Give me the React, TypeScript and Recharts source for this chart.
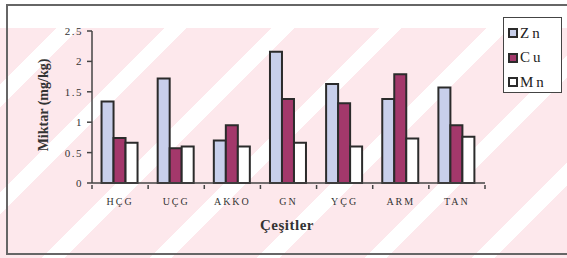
import React from "react";
import { BarChart, Bar, XAxis, YAxis } from "recharts";

const categories = ["HÇG", "UÇG", "AKKO", "GN", "YÇG", "ARM", "TAN"];
const zn = [1.34, 1.72, 0.7, 2.16, 1.63, 1.38, 1.57];
const cu = [0.74, 0.57, 0.95, 1.38, 1.31, 1.79, 0.95];
const mn = [0.66, 0.6, 0.6, 0.66, 0.6, 0.73, 0.76];
const yTicks = [0, 0.5, 1, 1.5, 2, 2.5];
const seriesKeys = ["Zn", "Cu", "Mn"] as const;

const data = categories.map((c, i) => ({ name: c, Zn: zn[i], Cu: cu[i], Mn: mn[i] }));

const SERIF = "'Liberation Serif', 'Times New Roman', serif";
const COLORS: Record<string, string> = { Zn: "#c8cfeb", Cu: "#a3386b", Mn: "#ffffff" };
const STROKE = "#2b2b2b";
const AXIS = "#444";

const XTick = (props: any) => {
  const { x, y, payload, index, visibleTicksCount, width } = props;
  const band = width / visibleTicksCount;
  const left = x - band / 2;
  const right = x + band / 2;
  return (
    <g>
      <line x1={left} x2={left} y1={y} y2={y + 4} stroke={AXIS} strokeWidth={1.5} />
      {index === visibleTicksCount - 1 && (
        <line x1={right} x2={right} y1={y} y2={y + 4} stroke={AXIS} strokeWidth={1.5} />
      )}
      <text x={x} y={y + 20} textAnchor="middle" fontSize={10} fill="#333" fontFamily={SERIF} style={{ letterSpacing: "2px" }}>
        {payload.value}
      </text>
    </g>
  );
};

const YTick = (props: any) => {
  const { x, y, payload } = props;
  return (
    <text x={x} y={y + 4} textAnchor="end" fontSize={11} fill="#333" fontFamily={SERIF} style={{ letterSpacing: "1.5px" }}>
      {payload.value}
    </text>
  );
};

const LegendBox = () => (
  <div
    style={{
      position: "absolute",
      left: 503,
      top: 17,
      width: 59,
      height: 76,
      border: "1px solid #444",
      background: "#fff",
      boxSizing: "border-box",
      paddingTop: 3,
      fontFamily: SERIF,
    }}
  >
    {seriesKeys.map((k) => (
      <div key={k} style={{ display: "flex", alignItems: "center", height: 24.5, paddingLeft: 4 }}>
        <span
          style={{
            display: "inline-block",
            width: 6,
            height: 6,
            background: COLORS[k],
            border: `2px solid ${STROKE}`,
            marginRight: 2,
          }}
        />
        <span style={{ fontSize: 15, letterSpacing: "3px", color: "#222" }}>{k}</span>
      </div>
    ))}
  </div>
);

export default function App() {
  return (
    <div
      style={{
        position: "absolute",
        left: 0,
        top: 0,
        width: 567,
        height: 258,
        overflow: "hidden",
        background:
          "linear-gradient(to bottom, #ffffff 0px, #ffffff 28px, rgba(255,255,255,0) 28px), repeating-linear-gradient(135deg, #fde8ec 0px, #fde8ec 60px, #ffffff 60px, #ffffff 76px)",
      }}
    >
      <div
        style={{
          position: "absolute",
          left: 6,
          top: 4,
          width: 570,
          height: 251,
          border: "2px solid #666",
          boxSizing: "border-box",
        }}
      />
      <BarChart
        width={567}
        height={258}
        data={data}
        margin={{ top: 31, right: 82, left: 0, bottom: 0 }}
        barCategoryGap="17%"
        barGap={0}
      >
        <XAxis
          dataKey="name"
          height={75}
          stroke={AXIS}
          strokeWidth={1.5}
          tickLine={false}
          tickSize={0}
          tick={<XTick />}
          interval={0}
        />
        <YAxis
          width={92}
          domain={[0, 2.5]}
          ticks={yTicks}
          tickSize={5}
          tickMargin={4}
          stroke={AXIS}
          strokeWidth={1.5}
          tick={<YTick />}
          interval={0}
        />
        {seriesKeys.map((k) => (
          <Bar
            key={k}
            dataKey={k}
            fill={COLORS[k]}
            stroke={STROKE}
            strokeWidth={2}
            isAnimationActive={false}
          />
        ))}
      </BarChart>
      <LegendBox />
      <div
        style={{
          position: "absolute",
          left: 44,
          top: 105,
          transform: "translate(-50%, -50%) rotate(-90deg)",
          whiteSpace: "nowrap",
          fontFamily: SERIF,
          fontWeight: "bold",
          fontSize: 14,
          color: "#333",
        }}
      >
        Miktar (mg/kg)
      </div>
      <div
        style={{
          position: "absolute",
          left: 287,
          top: 225,
          transform: "translate(-50%, -50%)",
          whiteSpace: "nowrap",
          fontFamily: SERIF,
          fontWeight: "bold",
          fontSize: 15,
          color: "#333",
          letterSpacing: "0.5px",
        }}
      >
        Çeşitler
      </div>
    </div>
  );
}
